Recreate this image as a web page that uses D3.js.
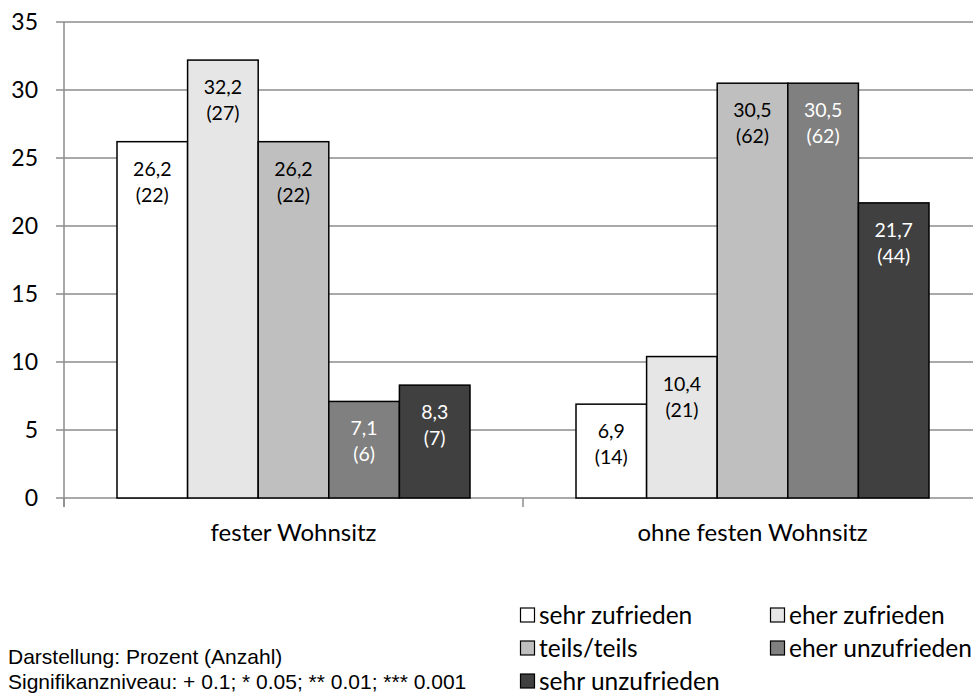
<!DOCTYPE html>
<html>
<head>
<meta charset="utf-8">
<script src="https://cdn.jsdelivr.net/npm/d3@7.9.0/dist/d3.min.js"></script>
<style>
  body { margin: 0; background: #fff; overflow: hidden; }
  svg { display: block; font-family: Lato, "Open Sans", sans-serif; }
</style>
</head>
<body>
<svg id="chart" width="973" height="694"></svg>
<script>
// groups on the x axis
const groups = ['fester Wohnsitz', 'ohne festen Wohnsitz'];
// answer categories (series)
const categories = ['sehr zufrieden', 'eher zufrieden', 'teils/teils', 'eher unzufrieden', 'sehr unzufrieden'];
// percent values per group
const festerPct = [26.2, 32.2, 26.2, 7.1, 8.3];
const ohnePct = [6.9, 10.4, 30.5, 30.5, 21.7];
// counts per group
const festerN = [22, 27, 22, 6, 7];
const ohneN = [14, 21, 62, 62, 44];
const yTicks = [0, 5, 10, 15, 20, 25, 30, 35];

const fills = ['#ffffff', '#e6e6e6', '#bfbfbf', '#808080', '#404040'];
const labelColors = ['#000', '#000', '#000', '#fff', '#fff'];

const rows = [
  { group: groups[0], pct: festerPct, n: festerN },
  { group: groups[1], pct: ohnePct, n: ohneN }
];

const svg = d3.select('#chart');
// plot area runs past the right edge of the picture, as in the original
const plotL = 64, plotR = 982, plotT = 22, plotB = 498;

const x0 = d3.scaleBand().domain(groups).range([plotL, plotR]);
const x1 = d3.scaleBand().domain(categories).range([53, x0.bandwidth() - 53]);
const y = d3.scaleLinear().domain([0, 35]).range([plotB, plotT]);

// gridlines
svg.append('g').selectAll('line').data(yTicks).join('line')
  .attr('x1', plotL - 8).attr('x2', plotR)
  .attr('y1', d => y(d)).attr('y2', d => y(d))
  .attr('stroke', '#8c8c8c').attr('stroke-width', 1.5);

// y axis line
svg.append('line')
  .attr('x1', plotL).attr('x2', plotL).attr('y1', plotT).attr('y2', plotB + 9)
  .attr('stroke', '#8c8c8c').attr('stroke-width', 1.5);

// category separator ticks
svg.append('g').selectAll('line').data([plotL, plotL + x0.bandwidth(), plotR]).join('line')
  .attr('x1', d => d).attr('x2', d => d).attr('y1', plotB).attr('y2', plotB + 9)
  .attr('stroke', '#8c8c8c').attr('stroke-width', 1.5);

// y tick labels
svg.append('g').selectAll('text').data(yTicks).join('text')
  .attr('x', 38).attr('y', d => y(d)).attr('dy', '0.36em')
  .attr('text-anchor', 'end').attr('font-size', 23).attr('fill', '#000')
  .text(d => d);

// bars
const gGroups = svg.append('g').selectAll('g').data(rows).join('g')
  .attr('transform', d => `translate(${x0(d.group)},0)`);

gGroups.selectAll('rect')
  .data(d => categories.map((c, i) => ({ c, i, v: d.pct[i], n: d.n[i] })))
  .join('rect')
  .attr('x', d => x1(d.c)).attr('width', x1.bandwidth())
  .attr('y', d => y(d.v)).attr('height', d => y(0) - y(d.v))
  .attr('fill', d => fills[d.i]).attr('stroke', '#000').attr('stroke-width', 1.5);

const labels = gGroups.selectAll('text')
  .data(d => categories.map((c, i) => ({ c, i, v: d.pct[i], n: d.n[i] })))
  .join('text')
  .attr('text-anchor', 'middle').attr('font-size', 19.5)
  .attr('fill', d => labelColors[d.i]);
labels.append('tspan')
  .attr('x', d => x1(d.c) + x1.bandwidth() / 2)
  .attr('y', d => y(d.v) + 34)
  .text(d => d3.format('.1f')(d.v).replace('.', ','));
labels.append('tspan')
  .attr('x', d => x1(d.c) + x1.bandwidth() / 2)
  .attr('y', d => y(d.v) + 60)
  .text(d => `(${d.n})`);

// x category labels
svg.append('g').selectAll('text').data(groups).join('text')
  .attr('x', d => x0(d) + x0.bandwidth() / 2).attr('y', 541)
  .attr('text-anchor', 'middle').attr('font-size', 24).attr('fill', '#000')
  .text(d => d);

// legend
const legendPos = [[520, 615], [770, 615], [520, 648], [770, 648], [520, 681]];
const lg = svg.append('g').selectAll('g').data(categories).join('g')
  .attr('transform', (d, i) => `translate(${legendPos[i][0]},${legendPos[i][1]})`);
lg.append('rect')
  .attr('x', 0.5).attr('y', -7).attr('width', 14).attr('height', 14)
  .attr('fill', (d, i) => fills[i]).attr('stroke', '#000').attr('stroke-width', 1.2);
lg.append('text')
  .attr('x', 19).attr('dy', '0.36em').attr('font-size', 24.5).attr('fill', '#000')
  .text(d => d);

// footnote
const notes = ['Darstellung: Prozent (Anzahl)', 'Signifikanzniveau: + 0.1; * 0.05; ** 0.01; *** 0.001'];
svg.append('g').selectAll('text').data(notes).join('text')
  .attr('x', 8).attr('y', (d, i) => 664 + i * 25)
  .attr('font-family', '"Liberation Sans", Arial, sans-serif')
  .attr('font-size', 21).attr('fill', '#000')
  .text(d => d);
</script>
</body>
</html>
